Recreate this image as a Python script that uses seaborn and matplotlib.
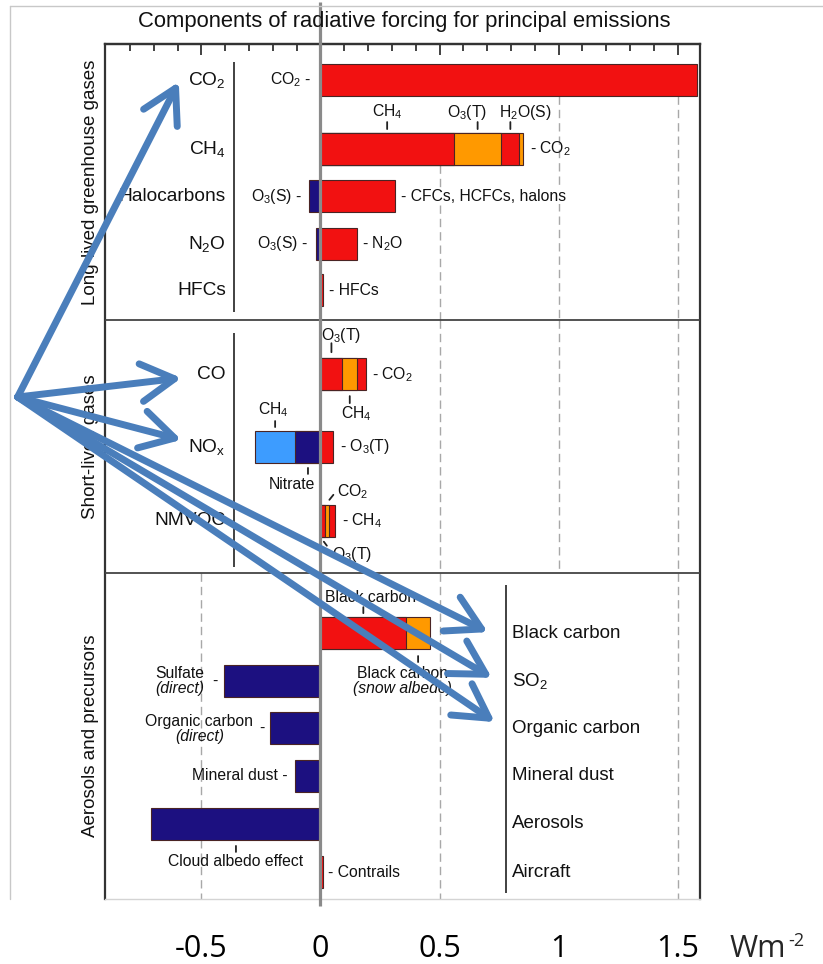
import matplotlib
matplotlib.use("Agg")
import numpy as np
import pandas as pd
import matplotlib.pyplot as plt
import seaborn as sns
from matplotlib.lines import Line2D
from matplotlib.ticker import FixedLocator
from matplotlib.transforms import offset_copy, blended_transform_factory

# ---------------- data: radiative forcing components (W m-2) ----------------
seg_row = ["CO2",
           "CH4", "CH4", "CH4", "CH4",
           "Halocarbons", "Halocarbons",
           "N2O", "N2O",
           "HFCs",
           "CO", "CO", "CO",
           "NOx", "NOx", "NOx",
           "NMVOC", "NMVOC", "NMVOC",
           "Black carbon", "Black carbon",
           "Sulfate", "Organic carbon", "Mineral dust", "Cloud albedo", "Contrails"]
seg_name = ["CO2",
            "CH4", "O3(T)", "H2O(S)", "CO2",
            "CFCs, HCFCs, halons", "O3(S)",
            "N2O", "O3(S)",
            "HFCs",
            "O3(T)", "CH4", "CO2",
            "O3(T)", "Nitrate", "CH4",
            "O3(T)", "CH4", "CO2",
            "Black carbon", "Black carbon (snow albedo)",
            "Sulfate", "Organic carbon", "Mineral dust", "Cloud albedo", "Contrails"]
seg_value = [1.58,
             0.56, 0.20, 0.075, 0.015,
             0.315, -0.048,
             0.154, -0.017,
             0.01,
             0.092, 0.062, 0.036,
             0.053, -0.105, -0.171,
             0.02, 0.017, 0.026,
             0.36, 0.10,
             -0.405, -0.21, -0.105, -0.71, 0.01]
seg_color = ["red",
             "red", "orange", "red", "orange",
             "red", "navy",
             "red", "navy",
             "red",
             "red", "orange", "red",
             "red", "navy", "sky",
             "red", "orange", "red",
             "red", "orange",
             "navy", "navy", "navy", "navy", "red"]

gas_labels = ["CO$_2$", "CH$_4$", "Halocarbons", "N$_2$O", "HFCs",
              "CO", "NO$_\\mathrm{x}$", "NMVOC"]
gas_rows = ["CO2", "CH4", "Halocarbons", "N2O", "HFCs", "CO", "NOx", "NMVOC"]
aerosol_labels = ["Black carbon", "SO$_2$", "Organic carbon", "Mineral dust",
                  "Aerosols", "Aircraft"]
aerosol_rows = ["Black carbon", "Sulfate", "Organic carbon", "Mineral dust",
                "Cloud albedo", "Contrails"]
section_titles = ["Long-lived greenhouse gases", "Short-lived gases",
                  "Aerosols and precursors"]
xtick_values = [-0.5, 0, 0.5, 1, 1.5]
xtick_labels = ["-0.5", "0", "0.5", "1", "1.5"]

# ---------------- layout ----------------
ROW_Y = {"CO2": 0.0, "CH4": 1.45, "Halocarbons": 2.44, "N2O": 3.445, "HFCs": 4.42,
         "CO": 6.18, "NOx": 7.71, "NMVOC": 9.26,
         "Black carbon": 11.62, "Sulfate": 12.63, "Organic carbon": 13.62,
         "Mineral dust": 14.62, "Cloud albedo": 15.63, "Contrails": 16.64}
SECTIONS = [(-0.756, 5.04), (5.04, 10.36), (10.36, 17.206)]
BAR_H = 0.67
XLIM = (-0.905, 1.594)
PALETTE = {"red": "#f21111", "orange": "#ff9900", "navy": "#1c1080", "sky": "#3d9cff"}
EDGE = "#4a2424"
FRAME = "#333333"
ARROW = "#4a7ebb"
FONT = ["Liberation Sans", "DejaVu Sans"]

sns.set_theme(style="white")
plt.rcParams["font.family"] = FONT
plt.rcParams["mathtext.fontset"] = "custom"
plt.rcParams["mathtext.rm"] = "Liberation Sans"
plt.rcParams["mathtext.it"] = "Liberation Sans:italic"
plt.rcParams["mathtext.bf"] = "Liberation Sans:bold"

W, H = 823, 964
fig = plt.figure(figsize=(W / 100, H / 100), dpi=100)
fig.patch.set_facecolor("white")
ax = fig.add_axes([105 / W, 1 - 899 / H, 595 / W, 855 / H])
ax.set_xlim(*XLIM)
ax.set_ylim(SECTIONS[-1][1], SECTIONS[0][0])

# ---------------- stacked segments ----------------
seg = pd.DataFrame(dict(row=seg_row, name=seg_name, value=seg_value, color=seg_color))
seg["sign"] = np.sign(seg["value"])
seg["end"] = seg.groupby(["row", "sign"])["value"].cumsum()
seg["start"] = seg["end"] - seg["value"]
seg["mid"] = (seg["start"] + seg["end"]) / 2
seg["y"] = seg["row"].map(ROW_Y)

# paint outermost cumulative bars first so inner ones sit on top
order = seg.assign(reach=seg["end"].abs()).sort_values("reach", ascending=False)
for _, s in order.iterrows():
    sns.barplot(x=[s["end"]], y=[s["y"]], orient="y", native_scale=True,
                width=BAR_H, color=PALETTE[s["color"]], saturation=1,
                edgecolor=EDGE, linewidth=0.8, errorbar=None, ax=ax, zorder=3)

ax.set_xlim(*XLIM)
ax.set_ylim(SECTIONS[-1][1], SECTIONS[0][0])
ax.set_xlabel("")
ax.set_ylabel("")
ax.set_yticks([])


def seg_of(row, name):
    return seg[(seg["row"] == row) & (seg["name"] == name)].iloc[0]


def row_left(row):
    return min(0.0, seg.loc[seg["row"] == row, "end"].min())


def row_right(row):
    return max(0.0, seg.loc[seg["row"] == row, "end"].max())


def top_edge(row):
    return ROW_Y[row] - BAR_H / 2


def bottom_edge(row):
    return ROW_Y[row] + BAR_H / 2


# ---------------- grid / frame decorations ----------------
dash_kw = dict(colors="#a8a8a8", linewidth=1.0, linestyles=(0, (6, 3.6)), zorder=1)
ax.vlines([0.5], bottom_edge("CH4"), SECTIONS[0][1], **dash_kw)
ax.vlines([1.0, 1.5], ROW_Y["CO2"] + BAR_H / 2, SECTIONS[0][1], **dash_kw)
ax.vlines([0.5, 1.0, 1.5], *SECTIONS[1], **dash_kw)
ax.vlines([-0.5, 0.5, 1.5], *SECTIONS[2], **dash_kw)

for yb in (SECTIONS[0][1], SECTIONS[1][1]):
    ax.axhline(yb, color="#444444", lw=1.3, zorder=4)

GAS_SEP_X, AER_SEP_X = -0.364, 0.778
ax.vlines(GAS_SEP_X, -0.378, 4.874, colors=FRAME, lw=1.3, zorder=4)
ax.vlines(GAS_SEP_X, 5.315, 10.23, colors=FRAME, lw=1.3, zorder=4)
ax.vlines(AER_SEP_X, 10.61, 17.08, colors=FRAME, lw=1.3, zorder=4)

for side_name in ("left", "right", "top"):
    ax.spines[side_name].set_color(FRAME)
    ax.spines[side_name].set_linewidth(1.6)
ax.spines["bottom"].set_color("#d4d4d4")
ax.spines["bottom"].set_linewidth(1.0)

# top ruler ticks
sec = ax.secondary_xaxis("top")
sec.set_xticks(xtick_values)
sec.xaxis.set_minor_locator(FixedLocator([v / 10 for v in range(-8, 16) if v % 5]))
sec.tick_params(which="both", direction="in", top=True, labeltop=False,
                color=FRAME, width=1.3)
sec.tick_params(which="major", length=8)
sec.tick_params(which="minor", length=5)
sec.spines["top"].set_color(FRAME)
sec.spines["top"].set_linewidth(1.6)

# bottom value labels
ax.set_xticks(xtick_values, xtick_labels, fontsize=22, fontfamily="Open Sans")
ax.tick_params(axis="x", bottom=True, length=0, pad=25, colors="black")
wm = ax.annotate("Wm", xy=(1.72, 0), xycoords=("data", "axes fraction"),
                 xytext=(0, -25), textcoords="offset points", ha="left", va="top",
                 fontsize=22, fontfamily="Open Sans")
ax.annotate("-2", xy=(1, 1), xycoords=wm, xytext=(1, 1), textcoords="offset points",
            ha="left", va="top", fontsize=13, fontfamily="Open Sans")

# zero line reaching above the frame
ax.plot([0, 0], [-0.008, 1.049], transform=blended_transform_factory(ax.transData, ax.transAxes),
        color="#8a8a8a", lw=2.3, clip_on=False, zorder=6, solid_capstyle="butt")

# light outer border
fig.add_artist(Line2D([10 / W, 10 / W], [1 - 6 / H, 1 - 899 / H], transform=fig.transFigure,
                      color="#c8c8c8", lw=1))
fig.add_artist(Line2D([10 / W, 1], [1 - 6 / H, 1 - 6 / H], transform=fig.transFigure,
                      color="#c8c8c8", lw=1))

# ---------------- text ----------------
fig.text(404 / W, 1 - 22 / H, "Components of radiative forcing for principal emissions",
         ha="center", va="center", fontsize=15.8, color="#111111")

ytrans = blended_transform_factory(ax.transAxes, ax.transData)
for title, (y0, y1) in zip(section_titles, SECTIONS):
    ax.text(-0.025, (y0 + y1) / 2, title, transform=ytrans, rotation=90,
            ha="center", va="center", fontsize=13.5, color="#111111")

for lab, row in zip(gas_labels, gas_rows):
    ax.annotate(lab, xy=(GAS_SEP_X, ROW_Y[row]), xytext=(-8, 0), textcoords="offset pixels",
                ha="right", va="center", fontsize=13.8, color="#111111", zorder=5)
for lab, row in zip(aerosol_labels, aerosol_rows):
    ax.annotate(lab, xy=(AER_SEP_X, ROW_Y[row]), xytext=(6, 0), textcoords="offset pixels",
                ha="left", va="center", fontsize=13.5, color="#111111", zorder=5)

SMALL = 11.3


def side(text, x, row, dx, ha, **kw):
    ax.annotate(text, xy=(x, ROW_Y[row]), xytext=(dx, 0), textcoords="offset pixels",
                ha=ha, va="center", fontsize=SMALL, color="#111111", zorder=5, **kw)


def callout(text, x, y, tick, txt, ha="center", style="normal"):
    (a1, b1), (a2, b2) = tick
    ax.annotate("", xy=(x, y), xycoords=offset_copy(ax.transData, fig=fig, x=a1, y=b1, units="dots"),
                xytext=(x, y), textcoords=offset_copy(ax.transData, fig=fig, x=a2, y=b2, units="dots"),
                arrowprops=dict(arrowstyle="-", color="#222222", lw=1.3, shrinkA=0, shrinkB=0),
                zorder=5)
    lines = text if isinstance(text, list) else [text]
    styles = style if isinstance(style, list) else [style] * len(lines)
    for i, (ln, st) in enumerate(zip(lines, styles)):
        ax.annotate(ln, xy=(x, y), xytext=(txt[0], txt[1] - 15.6 * i), textcoords="offset pixels",
                    ha=ha, va="center", fontsize=SMALL, style=st, color="#111111", zorder=5)


# labels beside bars
side("CO$_2$ -", row_left("CO2"), "CO2", -9, "right")
side("- CO$_2$", row_right("CH4"), "CH4", 7, "left")
side("O$_3$(S) -", row_left("Halocarbons"), "Halocarbons", -7, "right")
side("- CFCs, HCFCs, halons", row_right("Halocarbons"), "Halocarbons", 6, "left",
     bbox=dict(facecolor="white", edgecolor="none", pad=0.3))
side("O$_3$(S) -", row_left("N2O"), "N2O", -8, "right")
side("- N$_2$O", row_right("N2O"), "N2O", 5, "left")
side("- HFCs", row_right("HFCs"), "HFCs", 6, "left")
side("- CO$_2$", row_right("CO"), "CO", 6, "left")
side("- O$_3$(T)", row_right("NOx"), "NOx", 7, "left")
side("- CH$_4$", row_right("NMVOC"), "NMVOC", 7, "left")
side("-", row_left("Sulfate"), "Sulfate", -9, "center")
side("-", row_left("Organic carbon"), "Organic carbon", -9, "center")
side("Mineral dust -", row_left("Mineral dust"), "Mineral dust", -8, "right")
side("- Contrails", row_right("Contrails"), "Contrails", 5, "left")

# labels with leader ticks
up = ((0, 4), (0, 11))
callout("CH$_4$", seg_of("CH4", "CH4")["mid"], top_edge("CH4"), up, (0, 21))
callout("O$_3$(T)", seg_of("CH4", "O3(T)")["mid"], top_edge("CH4"), up, (-11, 21))
callout("H$_2$O(S)", seg_of("CH4", "H2O(S)")["mid"], top_edge("CH4"), up, (15, 21))
callout("O$_3$(T)", seg_of("CO", "O3(T)")["mid"], top_edge("CO"), ((0, 6), (0, 15)), (10, 23))
callout("CH$_4$", seg_of("CO", "CH4")["mid"], bottom_edge("CO"), ((0, -6), (0, -13)), (7, -24))
callout("CH$_4$", seg_of("NOx", "CH4")["mid"], top_edge("NOx"), ((0, 4), (0, 10)), (-2, 21))
callout("Nitrate", seg_of("NOx", "Nitrate")["mid"], bottom_edge("NOx"), ((0, -5), (0, -11)), (-16, -22))
callout("CO$_2$", seg_of("NMVOC", "CO2")["mid"], top_edge("NMVOC"), ((-3, 5), (1, 10)), (5, 13), ha="left")
callout("O$_3$(T)", seg_of("NMVOC", "O3(T)")["mid"], bottom_edge("NMVOC"), ((1, -5), (4, -9)), (9, -18), ha="left")
callout("Black carbon", seg_of("Black carbon", "Black carbon")["mid"], top_edge("Black carbon"),
        ((0, 4), (0, 10)), (7.5, 20))
callout(["Black carbon", "(snow albedo)"], seg_of("Black carbon", "Black carbon (snow albedo)")["mid"],
        bottom_edge("Black carbon"), ((0, -7), (0, -13)), (-16, -24), style=["normal", "italic"])
callout("Cloud albedo effect", seg_of("Cloud albedo", "Cloud albedo")["mid"], bottom_edge("Cloud albedo"),
        ((0, -6), (0, -12)), (0, -22))

# two-line labels left of the direct aerosol bars
for row, first, dx, dy in (("Sulfate", "Sulfate", -44, 8), ("Organic carbon", "Organic carbon", -71, 7)):
    for ln, st, off in ((first, "normal", 0), ("(direct)", "italic", -15)):
        ax.annotate(ln, xy=(row_left(row), ROW_Y[row]), xytext=(dx, dy + off), textcoords="offset pixels",
                    ha="center", va="center", fontsize=SMALL, style=st, color="#111111", zorder=5)

# ---------------- pointer arrows onto the emission names ----------------
arrow_origin = (-1.272, 6.66)
arrow_tips = [(-0.595, 0.04), (-0.584, 6.26), (-0.584, 7.56),
              (0.703, 11.6), (0.72, 12.56), (0.732, 13.49)]
for tip in arrow_tips:
    ax.annotate("", xy=tip, xytext=arrow_origin, xycoords="data", annotation_clip=False,
                arrowprops=dict(arrowstyle="->,head_length=1.2,head_width=0.68", mutation_scale=20,
                                color=ARROW, lw=5, shrinkA=0, shrinkB=0,
                                capstyle="round", joinstyle="round"),
                zorder=10)

fig.savefig("out.png", dpi=100, facecolor="white")
